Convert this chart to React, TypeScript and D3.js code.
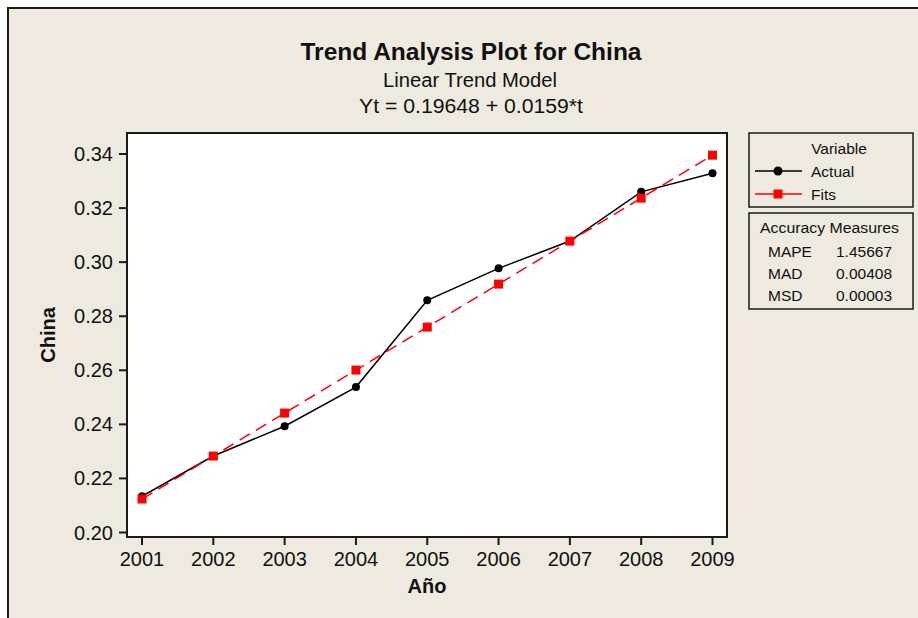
import React from "react";
import * as d3 from "d3";

const years = [2001, 2002, 2003, 2004, 2005, 2006, 2007, 2008, 2009];
const actual = [0.2134, 0.2283, 0.2393, 0.2538, 0.2859, 0.2977, 0.3078, 0.326, 0.3329];
const fits = [0.21238, 0.22828, 0.24418, 0.26008, 0.27598, 0.29188, 0.30778, 0.32368, 0.33958];
const yTicks = [0.2, 0.22, 0.24, 0.26, 0.28, 0.3, 0.32, 0.34];
const measureNames = ["MAPE", "MAD", "MSD"];
const measureValues = ["1.45667", "0.00408", "0.00003"];

const W = 918;
const H = 618;
const FONT = "'Liberation Sans', Arial, sans-serif";
const BG = "#EEEAE0";

export default function App() {
  const plot = { left: 127, right: 727, top: 133, bottom: 537 };
  const x = d3.scaleLinear().domain([2001, 2009]).range([142, 712.5]);
  const y = d3.scaleLinear().domain([0.2, 0.34]).range([532.5, 154]);
  const line = d3
    .line<[number, number]>()
    .x((d) => x(d[0]))
    .y((d) => y(d[1]));
  const actualPts: [number, number][] = years.map((yr, i) => [yr, actual[i]]);
  const fitPts: [number, number][] = years.map((yr, i) => [yr, fits[i]]);
  const fmt = d3.format(".2f");

  return (
    <svg
      width={W}
      height={H}
      style={{ position: "absolute", left: 0, top: 0, display: "block" }}
      fontFamily={FONT}
    >
      <rect x={0} y={0} width={W} height={H} fill="#ffffff" />
      <rect x={8} y={8} width={W + 20} height={H + 20} fill={BG} stroke="#1a1a1a" strokeWidth={2} />

      {/* titles */}
      <text x={471} y={60} textAnchor="middle" fontSize={24} fontWeight="bold" fill="#111" textLength={341} lengthAdjust="spacingAndGlyphs">
        Trend Analysis Plot for China
      </text>
      <text x={470} y={87} textAnchor="middle" fontSize={20} fill="#111" textLength={174} lengthAdjust="spacingAndGlyphs">
        Linear Trend Model
      </text>
      <text x={471} y={113} textAnchor="middle" fontSize={20} fill="#111" textLength={224} lengthAdjust="spacingAndGlyphs">
        Yt = 0.19648 + 0.0159*t
      </text>

      {/* plot area */}
      <rect
        x={plot.left}
        y={plot.top}
        width={plot.right - plot.left}
        height={plot.bottom - plot.top}
        fill="#ffffff"
        stroke="#1a1a1a"
        strokeWidth={2}
      />

      {/* y axis */}
      {yTicks.map((t) => (
        <g key={t}>
          <line x1={plot.left - 8} x2={plot.left} y1={y(t)} y2={y(t)} stroke="#1a1a1a" strokeWidth={2} />
          <text x={113} y={y(t) + 7} textAnchor="end" fontSize={20} fill="#111">
            {fmt(t)}
          </text>
        </g>
      ))}
      {/* x axis */}
      {years.map((yr) => (
        <g key={yr}>
          <line x1={x(yr)} x2={x(yr)} y1={plot.bottom} y2={plot.bottom + 8} stroke="#1a1a1a" strokeWidth={2} />
          <text x={x(yr)} y={566} textAnchor="middle" fontSize={20} fill="#111">
            {yr}
          </text>
        </g>
      ))}
      <text x={427} y={593} textAnchor="middle" fontSize={20} fontWeight="bold" fill="#111">
        Año
      </text>
      <text
        transform={`translate(55, ${(plot.top + plot.bottom) / 2}) rotate(-90)`}
        textAnchor="middle"
        fontSize={20}
        fontWeight="bold"
        fill="#111"
      >
        China
      </text>

      {/* series */}
      <path d={line(actualPts) || ""} fill="none" stroke="#000" strokeWidth={1.5} />
      {actualPts.map((p, i) => (
        <circle key={"a" + i} cx={x(p[0])} cy={y(p[1])} r={4} fill="#000" />
      ))}
      <path d={line(fitPts) || ""} fill="none" stroke="#ff0000" strokeWidth={1.5} strokeDasharray="12 7" />
      {fitPts.map((p, i) => (
        <rect key={"f" + i} x={x(p[0]) - 4.5} y={y(p[1]) - 4.5} width={9} height={9} fill="#ff0000" />
      ))}

      {/* legend */}
      <rect x={749} y={133} width={164} height={74} fill={BG} stroke="#1a1a1a" strokeWidth={1.5} />
      <text x={839} y={154} textAnchor="middle" fontSize={15.5} fill="#111">
        Variable
      </text>
      <line x1={755} x2={802} y1={171} y2={171} stroke="#000" strokeWidth={1.5} />
      <circle cx={778} cy={171} r={4.5} fill="#000" />
      <text x={811} y={177} fontSize={15.5} fill="#111">
        Actual
      </text>
      <line x1={755} x2={802} y1={194} y2={194} stroke="#ff0000" strokeWidth={1.5} />
      <rect x={773.5} y={189.5} width={9} height={9} fill="#ff0000" />
      <text x={811} y={200} fontSize={15.5} fill="#111">
        Fits
      </text>

      <rect x={749} y={213} width={164} height={96} fill={BG} stroke="#1a1a1a" strokeWidth={1.5} />
      <text x={760} y={233} fontSize={15.5} fill="#111" textLength={139} lengthAdjust="spacingAndGlyphs">
        Accuracy Measures
      </text>
      {measureNames.map((m, i) => (
        <g key={m}>
          <text x={768} y={257 + i * 22.2} fontSize={15.5} fill="#111">
            {m}
          </text>
          <text x={892} y={257 + i * 22.2} fontSize={15.5} fill="#111" textAnchor="end">
            {measureValues[i]}
          </text>
        </g>
      ))}
    </svg>
  );
}
